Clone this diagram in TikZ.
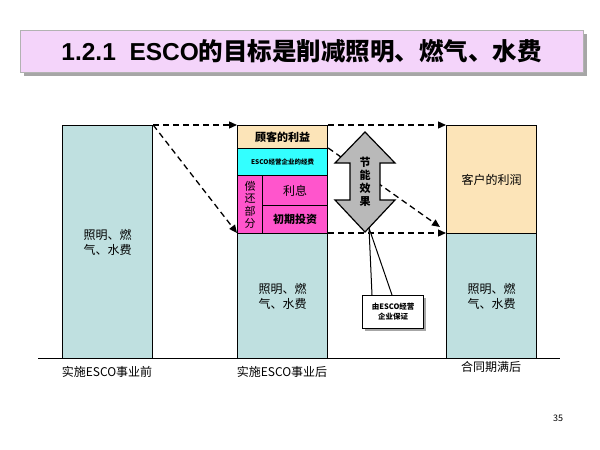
\documentclass[tikz,border=0pt]{standalone}
\usepackage{fontspec}
\setmainfont{Noto Sans CJK SC}
\newfontfamily\arialb{Liberation Sans}
\usetikzlibrary{arrows.meta}
\definecolor{bl}{HTML}{BFE0E0}
\definecolor{tan}{HTML}{FCE4B8}
\definecolor{cy}{HTML}{33FFFF}
\definecolor{pk}{HTML}{FF55CC}
\definecolor{tt}{HTML}{F4D4FA}
\tikzset{bx/.style={draw,line width=1.2pt},
  da/.style={dashed,line width=1.3pt,-{Triangle[length=8pt,width=7pt]},dash pattern=on 6pt off 4pt},
  lb/.style={font=\fontsize{12}{15}\selectfont,align=center}}
\begin{document}
\begin{tikzpicture}[x=1pt,y=-1pt]
\useasboundingbox (0,0) rectangle (600,450);
\fill[gray!70] (24,34) rectangle (587,76);
\node[draw=gray!60,fill=tt,minimum width=563pt,minimum height=42pt,anchor=north west,inner sep=0] (title) at (20,30) {};
\node[font=\fontsize{24.5}{27}\selectfont\bfseries] at (title) {{\arialb\bfseries 1.2.1\ \ ESCO}的目标是削减照明、燃气、水费};
% bar1
\node[bx,fill=bl,anchor=north west,minimum width=90pt,minimum height=233pt,inner sep=0,lb] (b1) at (62,125) {照明、燃\\气、水费};
% bar2
\node[bx,fill=bl,anchor=north west,minimum width=90pt,minimum height=125pt,inner sep=0,lb] (b2) at (237,233) {照明、燃\\气、水费};
\node[bx,fill=pk,anchor=north west,minimum width=25pt,minimum height=58pt,inner sep=0,font=\fontsize{11}{12.5}\selectfont,align=center] (pay) at (237,175) {偿\\还\\部\\分};
\node[bx,fill=pk,anchor=north west,minimum width=65pt,minimum height=30pt,inner sep=0,lb] (int) at (262,175) {利息};
\node[bx,fill=pk,anchor=north west,minimum width=65pt,minimum height=28pt,inner sep=0,font=\fontsize{11}{12}\selectfont\bfseries] (inv) at (262,205) {初期投资};
\node[bx,fill=cy,anchor=north west,minimum width=90pt,minimum height=27pt,inner sep=0,font=\fontsize{6.5}{7}\selectfont\bfseries] (fee) at (237,148) {ESCO经营企业的经费};
\node[bx,fill=tan,anchor=north west,minimum width=90pt,minimum height=23pt,inner sep=0,font=\fontsize{11}{12}\selectfont\bfseries] (ben) at (237,125) {顾客的利益};
% bar3
\node[bx,fill=bl,anchor=north west,minimum width=90pt,minimum height=125pt,inner sep=0,lb] (b3) at (446,233) {照明、燃\\气、水费};
\node[bx,fill=tan,anchor=north west,minimum width=90pt,minimum height=108pt,inner sep=0,lb] (pr) at (446,125) {客户的利润};
\coordinate (g1) at (38,358); \coordinate (g2) at (560,358);
\draw[line width=1pt] (g1) -- (g2);
% dashed arrows
\draw[da] (b1.north east) -- (ben.north west);
\draw[da] (b1.north east) -- (b2.north west);
\draw[da] (ben.north east) -- (pr.north west);
\draw[da] (b2.north east) -- (b3.north west);
\draw[da] (fee.north east) -- ([shift={(-6,-6)}]b3.north west);
% callout pointer
\coordinate (tip) at (369,228);
\draw[line width=1pt,fill=white] (372,295) -- (tip) -- (392,295);
% double arrow
\draw[line width=1.2pt,fill=gray!55] (365,132) -- (395,163) -- (380,163) -- (380,200) -- (395,200) -- (365,232) -- (335,200) -- (350,200) -- (350,163) -- (335,163) -- cycle;
\node[font=\fontsize{11}{13}\selectfont\bfseries,align=center] (dbl) at (365,182) {节\\能\\效\\果};
% callout
\fill[gray!70] (365,298) rectangle (426,331);
\node[draw,fill=white,line width=1.2pt,anchor=north west,minimum width=61pt,minimum height=33pt,inner sep=0,font=\fontsize{7.5}{10}\selectfont\bfseries,align=center] (cb) at (362,295) {由ESCO经营\\企业保证};
\node[lb] at (107,372) {实施ESCO事业前};
\node[lb] at (282,372) {实施ESCO事业后};
\node[lb] at (491,367) {合同期满后};
\node[font=\fontsize{9}{10}\selectfont] at (558,418) {35};
\end{tikzpicture}
\end{document}
